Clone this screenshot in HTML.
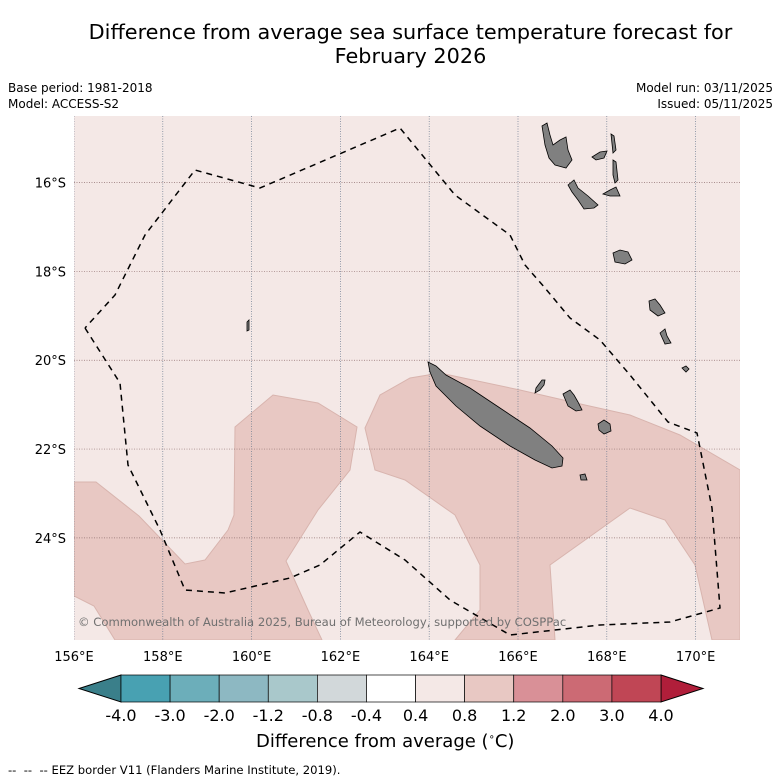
<!DOCTYPE html>
<html><head><meta charset="utf-8"><style>
body{margin:0;background:#fff;font-family:"DejaVu Sans","Liberation Sans",sans-serif;}
#wrap{position:relative;width:781px;height:781px;overflow:hidden;}
.t{position:absolute;white-space:nowrap;color:#000;}
</style></head><body>
<div id="wrap">
<div class="t" style="left:0;width:821px;top:20px;text-align:center;font-size:20.8px;line-height:24px;">Difference from average sea surface temperature forecast for<br>February 2026</div>
<div class="t" style="left:8px;top:80px;font-size:12px;line-height:16px;">Base period: 1981-2018<br>Model: ACCESS-S2</div>
<div class="t" style="right:8px;top:80px;font-size:12px;line-height:16px;text-align:right;">Model run: 03/11/2025<br>Issued: 05/11/2025</div>
<svg id="map" width="781" height="781" style="position:absolute;left:0;top:0"></svg>
<div class="t" style="left:256px;top:731px;font-size:18px;">Difference from average (<sup style="font-size:10px">∘</sup>C)</div>
<div class="t" style="left:8px;top:763px;font-size:11.6px;">-- &nbsp;-- &nbsp;-- EEZ border V11 (Flanders Marine Institute, 2019).</div>
</div>
<script>
const lonTicks=[156,158,160,162,164,166,168,170];
const latTicks=[16,18,20,22,24];
const cbTicks=["-4.0","-3.0","-2.0","-1.2","-0.8","-0.4","0.4","0.8","1.2","2.0","3.0","4.0"];
const cbColors=["#48a1b2","#6caeba","#8db8c2","#a9c8cb","#d2d8da","#ffffff","#f4e8e6","#e8c8c3","#d99097","#cc6a74","#c04655"];
const X0=74,X1=740,Y0=116,Y1=640;
const lonMin=156,lonMax=171,latTop=14.5,latBot=26.3;
function px(lon){return X0+(lon-lonMin)/(lonMax-lonMin)*(X1-X0);}
function py(lat){return Y0+(lat-latTop)/(latBot-latTop)*(Y1-Y0);}
const NS="http://www.w3.org/2000/svg";
const svg=document.getElementById('map');
function mk(t,a,p){const e=document.createElementNS(NS,t);for(const k in a)e.setAttribute(k,a[k]);(p||svg).appendChild(e);return e;}
const clip=mk('clipPath',{id:'cp'});mk('rect',{x:X0,y:Y0,width:X1-X0,height:Y1-Y0},clip);
const g=mk('g',{'clip-path':'url(#cp)'});
const bg=mk('rect',{x:X0,y:Y0,width:X1-X0,height:Y1-Y0,fill:'#f4e8e6'},g);


const warmA=[[74,482],[96,482],[139,516],[185,564],[205,560],[228,530],[234,515],[235,427],[273,395],[318,403],[357,427],[350,470],[318,510],[286,561],[308,610],[322,640],[115,640],[94,606],[74,596]];
const warmB=[[365,428],[380,395],[410,378],[440,373],[520,390],[585,405],[630,415],[680,435],[740,470],[740,640],[712,640],[695,565],[665,520],[630,508],[550,565],[555,640],[455,640],[480,610],[480,565],[455,515],[405,480],[375,470]];
[[warmA,'warm-anomaly-west'],[warmB,'warm-anomaly-east']].forEach(([p,n])=>{const e=mk('polygon',{points:p.join(' '),fill:'#e8c8c3',stroke:'#d8b4ae','stroke-width':1},g);

});
lonTicks.forEach(l=>{const e=mk('line',{x1:px(l),x2:px(l),y1:Y0,y2:Y1,stroke:'#6a7a90','stroke-width':0.7,'stroke-dasharray':'1,1.5'},g);

});
latTicks.forEach(l=>{const e=mk('line',{x1:X0,x2:X1,y1:py(l),y2:py(l),stroke:'#907070','stroke-width':0.7,'stroke-dasharray':'1,1.5'},g);

});
const islands=[
[[428,362],[436,366],[446,375],[470,388],[500,408],[530,428],[552,446],[563,458],[562,466],[552,468],[535,460],[510,446],[480,426],[456,406],[436,386],[430,372]],
[[542,126],[547,123],[550,135],[553,145],[560,140],[566,137],[568,150],[572,160],[566,168],[555,165],[549,158],[545,145]],
[[568,185],[574,180],[578,188],[588,196],[598,205],[594,208],[584,209],[578,200],[572,192]],
[[592,157],[600,152],[607,151],[604,158],[596,160]],
[[611,134],[614,136],[616,150],[613,153]],[[613,160],[616,162],[618,180],[615,183],[613,175]],
[[603,194],[610,190],[616,187],[620,196],[610,196]],
[[613,253],[620,250],[628,252],[632,260],[625,264],[615,262]],
[[536,388],[542,380],[545,380],[544,385],[540,390],[535,393]],
[[563,394],[570,390],[574,395],[578,402],[582,410],[576,411],[568,406]],
[[598,424],[604,420],[610,424],[611,431],[604,434],[599,430]],
[[649,301],[655,299],[660,305],[665,313],[658,316],[650,310]],
[[660,333],[665,329],[667,336],[671,343],[665,344]],
[[682,368],[686,366],[689,369],[686,372]],
[[580,475],[585,474],[587,480],[581,480]],
[[247,322],[249,320],[249,330],[247,331]]];
islands.forEach((p,i)=>{const e=mk('polygon',{points:p.join(' '),fill:'#808080',stroke:'#000','stroke-width':0.8},g);

});
const eez=[[85,328],[120,383],[128,465],[160,530],[185,590],[225,593],[290,578],[320,565],[360,532],[405,560],[450,600],[510,635],[600,625],[670,622],[720,608],[712,508],[697,433],[668,422],[630,375],[600,340],[570,318],[545,288],[525,265],[510,235],[455,195],[400,128],[260,188],[195,170],[145,235],[115,295],[85,328]];
const ez=mk('polyline',{points:eez.join(' '),fill:'none',stroke:'#000','stroke-width':1.5,'stroke-dasharray':'6,5'},g);


const cr=mk('text',{x:78,y:626,'font-size':11.6,fill:'#707070','font-family':'DejaVu Sans, sans-serif'},g);
cr.textContent='© Commonwealth of Australia 2025, Bureau of Meteorology, supported by COSPPac';


lonTicks.forEach(l=>{const t=mk('text',{x:px(l),y:661,'font-size':13,'text-anchor':'middle','font-family':'DejaVu Sans, sans-serif'});t.textContent=l+'°E';

});
latTicks.forEach(l=>{const t=mk('text',{x:66,y:py(l)+5,'font-size':13,'text-anchor':'end','font-family':'DejaVu Sans, sans-serif'});t.textContent=l+'°S';

});
const CB0=121,CB1=661,CBT=675,CBB=702,bw=(CB1-CB0)/cbColors.length;
const lt=mk('polygon',{points:`${CB0},${CBT} 79,${(CBT+CBB)/2} ${CB0},${CBB}`,fill:'#3a7f8a',stroke:'#000','stroke-width':1});


const rt=mk('polygon',{points:`${CB1},${CBT} 703,${(CBT+CBB)/2} ${CB1},${CBB}`,fill:'#b01e3a',stroke:'#000','stroke-width':1});


cbColors.forEach((c,i)=>{const r=mk('rect',{x:CB0+i*bw,y:CBT,width:bw,height:CBB-CBT,fill:c,stroke:'#000','stroke-width':0.7});

});
cbTicks.forEach((s,i)=>{const t=mk('text',{x:CB0+i*bw,y:721,'font-size':16,'text-anchor':'middle','font-family':'DejaVu Sans, sans-serif'});t.textContent=s;

});
</script>
</body></html>
